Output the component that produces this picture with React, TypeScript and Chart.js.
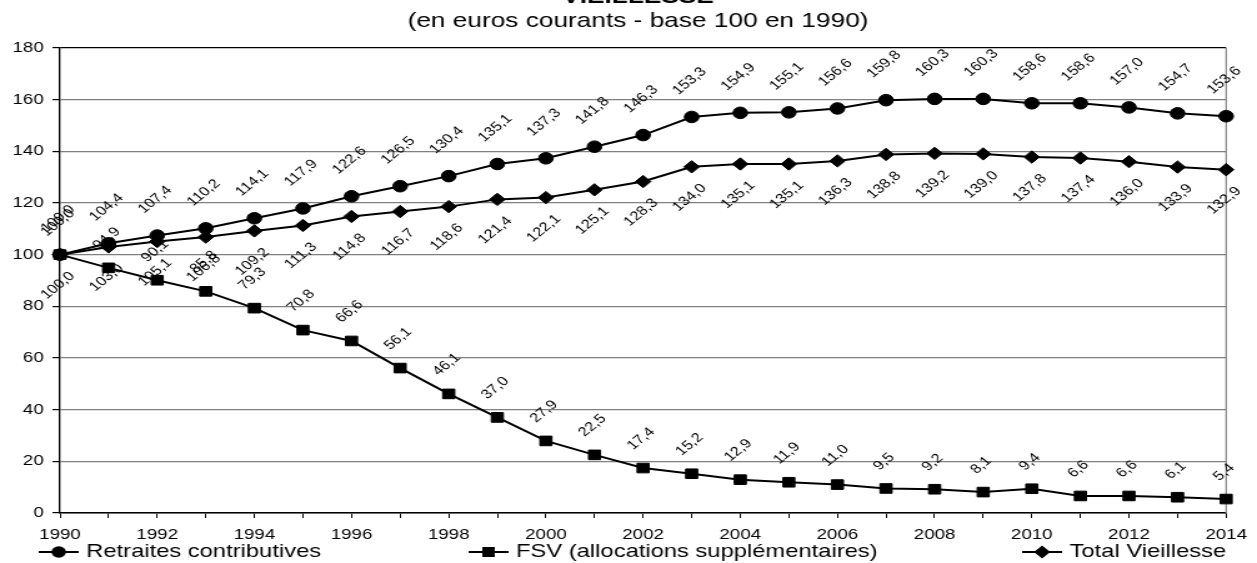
import { useEffect, useRef } from 'react';
import { Chart, registerables } from 'chart.js';

Chart.register(...registerables);

const years = [
  '1990', '1991', '1992', '1993', '1994', '1995', '1996', '1997', '1998', '1999',
  '2000', '2001', '2002', '2003', '2004', '2005', '2006', '2007', '2008', '2009',
  '2010', '2011', '2012', '2013', '2014',
];
const retraites = [
  100.0, 104.4, 107.4, 110.2, 114.1, 117.9, 122.6, 126.5, 130.4, 135.1,
  137.3, 141.8, 146.3, 153.3, 154.9, 155.1, 156.6, 159.8, 160.3, 160.3,
  158.6, 158.6, 157.0, 154.7, 153.6,
];
const fsv = [
  100.0, 94.9, 90.1, 85.8, 79.3, 70.8, 66.6, 56.1, 46.1, 37.0,
  27.9, 22.5, 17.4, 15.2, 12.9, 11.9, 11.0, 9.5, 9.2, 8.1,
  9.4, 6.6, 6.6, 6.1, 5.4,
];
const totalVieillesse = [
  100.0, 103.0, 105.1, 106.8, 109.2, 111.3, 114.8, 116.7, 118.6, 121.4,
  122.1, 125.1, 128.3, 134.0, 135.1, 135.1, 136.3, 138.8, 139.2, 139.0,
  137.8, 137.4, 136.0, 133.9, 132.9,
];
const seriesNames = [
  'Retraites contributives',
  'FSV (allocations supplémentaires)',
  'Total Vieillesse',
];
const titleText = 'VIEILLESSE';
const subtitleText = '(en euros courants - base 100 en 1990)';
const yMin = 0;
const yMax = 180;
const yStep = 20;

// The reference picture is horizontally stretched: draw at a narrower width, then stretch.
const OUT_W = 1257;
const H = 563;
const W = 1006;
const S = OUT_W / W;

const FONT = '"Liberation Sans", Arial, sans-serif';
const fmt = (v: number) => v.toFixed(1).replace('.', ',');

type Marker = 'circle' | 'rect' | 'rectRot';
const markers: Marker[] = ['circle', 'rect', 'rectRot'];
const labelPlacement = [
  { dir: -1, gap: 21 },
  { dir: -1, gap: 17 },
  { dir: 1, gap: 16 },
];
const legendX = [31, 375, 818];

function drawMarker(ctx: CanvasRenderingContext2D, m: Marker, x: number, y: number) {
  ctx.beginPath();
  if (m === 'circle') {
    ctx.arc(x, y, 5.8, 0, Math.PI * 2);
  } else if (m === 'rect') {
    ctx.rect(x - 5, y - 5, 10, 10);
  } else {
    ctx.moveTo(x, y - 6.5);
    ctx.lineTo(x + 6.5, y);
    ctx.lineTo(x, y + 6.5);
    ctx.lineTo(x - 6.5, y);
    ctx.closePath();
  }
  ctx.fill();
}

const labelsPlugin = {
  id: 'rotLabels',
  afterDatasetsDraw(chart: any) {
    const ctx: CanvasRenderingContext2D = chart.ctx;
    ctx.save();
    ctx.font = `13px ${FONT}`;
    ctx.fillStyle = '#000';
    ctx.textAlign = 'center';
    ctx.textBaseline = 'middle';
    chart.data.datasets.forEach((ds: any, di: number) => {
      const meta = chart.getDatasetMeta(di);
      const cfg = labelPlacement[di];
      meta.data.forEach((pt: any, i: number) => {
        const txt = fmt(ds.data[i]);
        const w = ctx.measureText(txt).width;
        const half = (w + 9.5) * 0.3536;
        const cy = pt.y + cfg.dir * (cfg.gap + half);
        ctx.save();
        ctx.translate(pt.x - 1.6, cy);
        ctx.rotate(-Math.PI / 4);
        ctx.fillText(txt, 0, 0);
        ctx.restore();
      });
    });
    ctx.restore();
  },
};

const decorPlugin = {
  id: 'decor',
  beforeDatasetsDraw(chart: any) {
    const { ctx, chartArea } = chart;
    ctx.save();
    ctx.strokeStyle = '#808080';
    ctx.lineWidth = 1.2;
    ctx.beginPath();
    ctx.moveTo(chartArea.right, chartArea.top);
    ctx.lineTo(chartArea.right, chartArea.bottom);
    ctx.stroke();
    ctx.restore();
  },
  afterDraw(chart: any) {
    const ctx: CanvasRenderingContext2D = chart.ctx;
    const cx = 638 / S;
    ctx.save();
    ctx.fillStyle = '#000';
    ctx.textAlign = 'center';
    ctx.textBaseline = 'alphabetic';
    ctx.font = `bold 21px ${FONT}`;
    ctx.fillText(titleText, cx, 3);
    ctx.font = `21px ${FONT}`;
    ctx.fillText(subtitleText, cx, 27);

    // legend
    const ly = 552;
    ctx.textAlign = 'left';
    ctx.textBaseline = 'middle';
    ctx.font = `19px ${FONT}`;
    ctx.strokeStyle = '#000';
    ctx.lineWidth = 2;
    seriesNames.forEach((name, i) => {
      const x0 = legendX[i];
      ctx.beginPath();
      ctx.moveTo(x0, ly);
      ctx.lineTo(x0 + 32, ly);
      ctx.stroke();
      drawMarker(ctx, markers[i], x0 + 16, ly);
      ctx.fillText(name, x0 + 38, ly);
    });
    ctx.restore();
  },
};

export default function App() {
  const ref = useRef<HTMLCanvasElement | null>(null);
  useEffect(() => {
    document.body.style.margin = '0';
    if (!ref.current) return;
    const mk = (label: string, data: number[], m: Marker, r: number) => ({
      label,
      data,
      borderColor: '#000',
      backgroundColor: '#000',
      borderWidth: 2,
      pointStyle: m,
      pointRadius: r,
      pointBackgroundColor: '#000',
      pointBorderColor: '#000',
      pointBorderWidth: 1,
      tension: 0,
      fill: false,
    });
    const chart = new Chart(ref.current, {
      type: 'line',
      data: {
        labels: years,
        datasets: [
          mk(seriesNames[0], retraites, 'circle', 5.8),
          mk(seriesNames[1], fsv, 'rect', 6.8),
          mk(seriesNames[2], totalVieillesse, 'rectRot', 6.2),
        ],
      },
      options: {
        responsive: false,
        animation: false,
        devicePixelRatio: 1,
        layout: { padding: { top: 48, right: W - 1233 / S, left: 0, bottom: 0 } },
        plugins: {
          legend: { display: false },
          tooltip: { enabled: false },
          title: { display: false },
        },
        scales: {
          x: {
            type: 'category',
            offset: false,
            afterFit: (s: any) => { s.height = 50; },
            grid: { drawOnChartArea: false, tickLength: 5, tickColor: '#000', lineWidth: 1 },
            border: { color: '#000', width: 1.5 },
            ticks: {
              autoSkip: false,
              maxRotation: 0,
              minRotation: 0,
              color: '#000',
              font: { family: FONT, size: 15 },
              padding: 8,
              callback: (_v: any, i: number) => (i % 2 === 0 ? years[i] : ''),
            },
          },
          y: {
            min: yMin,
            max: yMax,
            afterFit: (s: any) => { s.width = 60 / S; },
            grid: {
              color: (c: any) => (c.tick && c.tick.value === yMax ? '#000' : '#808080'),
              lineWidth: 1.2,
              tickLength: 6,
              tickColor: '#000',
            },
            border: { color: '#000', width: 1.3 },
            ticks: {
              stepSize: yStep,
              color: '#000',
              font: { family: FONT, size: 15 },
              padding: 7,
            },
          },
        },
      },
      plugins: [decorPlugin, labelsPlugin],
    });
    return () => chart.destroy();
  }, []);
  return (
    <div style={{ width: OUT_W, height: H, overflow: 'hidden' }}>
      <div style={{ width: W, height: H, transform: `scaleX(${S})`, transformOrigin: '0 0' }}>
        <canvas ref={ref} width={W} height={H} />
      </div>
    </div>
  );
}
